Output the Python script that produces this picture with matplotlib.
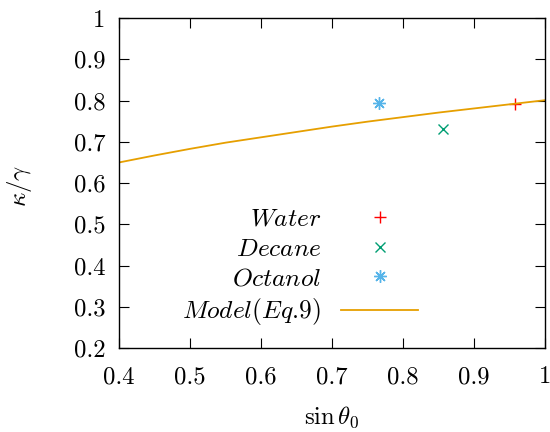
import matplotlib
matplotlib.use('Agg')
import matplotlib.pyplot as plt

plt.rcParams['font.family'] = 'serif'
plt.rcParams['font.serif'] = ['cmr10']
plt.rcParams['mathtext.fontset'] = 'cm'
plt.rcParams['axes.formatter.use_mathtext'] = True

# data
water_x, water_y = [0.957], [0.792]
decane_x, decane_y = [0.856], [0.731]
octanol_x, octanol_y = [0.766], [0.794]
model_x = [0.40, 0.45, 0.50, 0.55, 0.60, 0.65, 0.70, 0.75, 0.80, 0.85, 0.90, 0.95, 1.00]
model_y = [0.650, 0.667, 0.683, 0.698, 0.711, 0.724, 0.737, 0.749, 0.760, 0.771, 0.781, 0.791, 0.801]

xticks = [0.4, 0.5, 0.6, 0.7, 0.8, 0.9, 1.0]
xlabels = ['0.4', '0.5', '0.6', '0.7', '0.8', '0.9', '1']
yticks = [0.2, 0.3, 0.4, 0.5, 0.6, 0.7, 0.8, 0.9, 1.0]
ylabels = ['0.2', '0.3', '0.4', '0.5', '0.6', '0.7', '0.8', '0.9', '1']

fig = plt.figure(figsize=(5.5, 4.32), dpi=100)
ax = fig.add_axes([0.2164, 0.1944, 0.7746, 0.7636])

ax.plot(water_x, water_y, ls='none', marker='+', color='#ff0000', ms=8, mew=1, label='$Water$')
ax.plot(decane_x, decane_y, ls='none', marker='x', color='#009e73', ms=6.5, mew=1, label='$Decane$')
ax.plot(octanol_x, octanol_y, ls='none', marker=(8, 2, 0), color='#56b4e9', ms=9, mew=1, label='$Octanol$')
ax.plot(model_x, model_y, color='#e69f00', lw=1.3, label='$Model(Eq$.$9)$')

ax.set_xlim(0.4, 1.0)
ax.set_ylim(0.2, 1.0)
ax.set_xticks(xticks)
ax.set_xticklabels(xlabels)
ax.set_yticks(yticks)
ax.set_yticklabels(ylabels)
ax.tick_params(direction='in', length=7, width=0.8, top=True, right=True,
               labelsize=17.8)
ax.tick_params(axis='x', pad=13)
ax.tick_params(axis='y', pad=10)
for s in ax.spines.values():
    s.set_linewidth(1.0)

ax.set_xlabel(r'$\sin\theta_0$', fontsize=17.8)
ax.xaxis.set_label_coords(0.5, -0.172)
ax.set_ylabel(r'$\kappa/\gamma$', fontsize=17.8)
ax.yaxis.set_label_coords(-0.2, 0.49)

ax.legend(loc='center', bbox_to_anchor=(0.425, 0.245), markerfirst=False, frameon=False,
          fontsize=18.3, handlelength=3.0, handletextpad=0.8, labelspacing=0.24)

fig.savefig('out.png', dpi=100)
